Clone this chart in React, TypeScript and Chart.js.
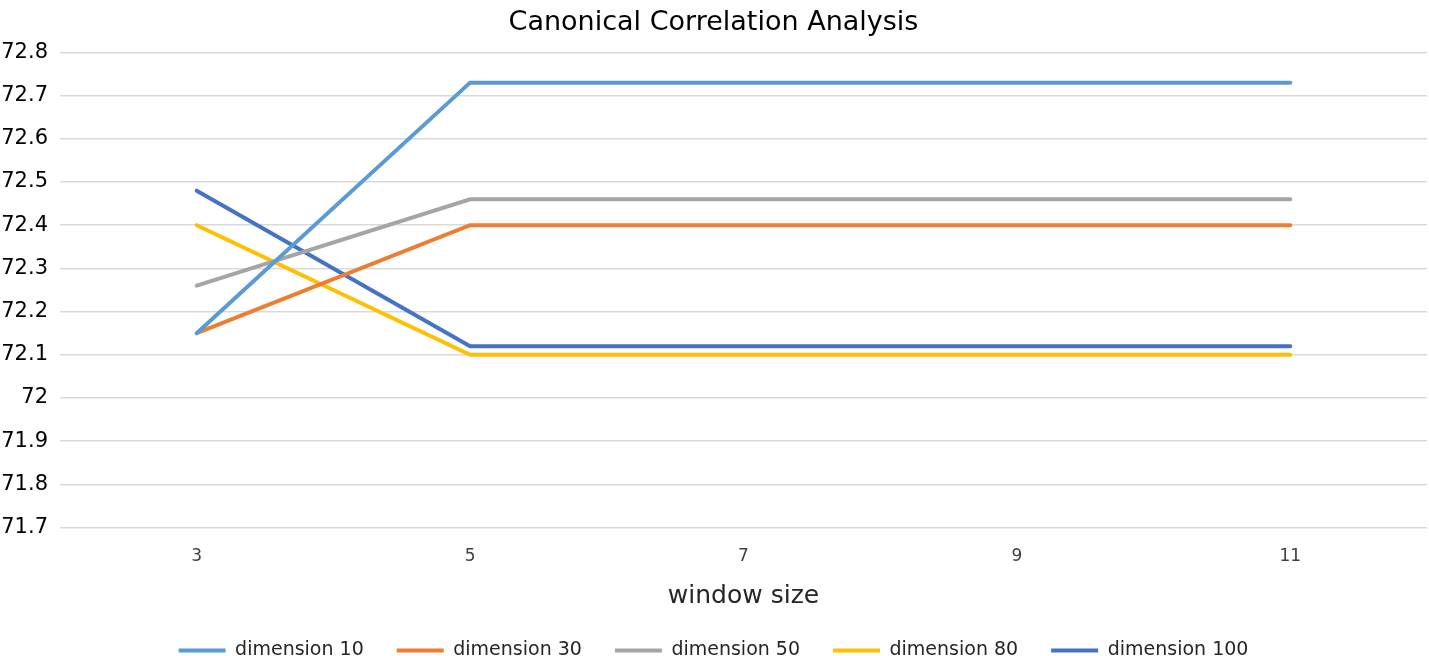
import React, { useEffect, useRef } from "react";
import { Chart, registerables } from "chart.js";

Chart.register(...registerables);

const windowSizes = ["3", "5", "7", "9", "11"];
const dim10 = [72.15, 72.73, 72.73, 72.73, 72.73];
const dim30 = [72.15, 72.4, 72.4, 72.4, 72.4];
const dim50 = [72.26, 72.46, 72.46, 72.46, 72.46];
const dim80 = [72.4, 72.1, 72.1, 72.1, 72.1];
const dim100 = [72.48, 72.12, 72.12, 72.12, 72.12];
const seriesNames = ["dimension 10", "dimension 30", "dimension 50", "dimension 80", "dimension 100"];
const seriesColors = ["#5B9BD5", "#ED7D31", "#A5A5A5", "#FFC000", "#4472C4"];

const FONT = "'DejaVu Sans', sans-serif";

export default function App() {
  const ref = useRef<HTMLCanvasElement | null>(null);
  useEffect(() => {
    document.body.style.margin = "0";
    if (!ref.current) return;
    const values = [dim10, dim30, dim50, dim80, dim100];
    const chart = new Chart(ref.current, {
      type: "line",
      data: {
        labels: windowSizes,
        datasets: values.map((v, i) => ({
          label: seriesNames[i],
          data: v,
          borderColor: seriesColors[i],
          backgroundColor: seriesColors[i],
          borderWidth: 4,
          borderCapStyle: "round" as const,
          pointRadius: 0,
          tension: 0,
        })),
      },
      options: {
        animation: false,
        responsive: true,
        maintainAspectRatio: false,
        layout: { padding: { left: 0, right: 2, top: 4, bottom: -14 } },
        plugins: {
          title: {
            display: true,
            text: "Canonical Correlation Analysis",
            color: "#000",
            font: { family: FONT, size: 27, weight: "normal" },
            padding: { top: 3, bottom: 13 },
          },
          legend: {
            position: "bottom",
            labels: {
              color: "#262626",
              font: { family: FONT, size: 19 },
              boxWidth: 47,
              boxHeight: 4,
              padding: 33,
              generateLabels: (c: any) => {
                const items = Chart.defaults.plugins.legend.labels.generateLabels(c);
                return items.map((it: any) => ({ ...it, lineWidth: 0 }));
              },
            },
          },
          tooltip: { enabled: false },
        },
        scales: {
          x: {
            offset: true,
            grid: { display: false, drawTicks: false },
            border: { display: false },
            ticks: { color: "#404040", font: { family: FONT, size: 17 }, padding: 19 },
            title: {
              display: true,
              text: "window size",
              color: "#262626",
              font: { family: FONT, size: 25 },
              padding: { top: -5, bottom: -3 },
            },
          },
          y: {
            min: 71.7,
            max: 72.8,
            afterFit: (s: any) => {
              s.width = 60;
            },
            grid: { color: "#d9d9d9", lineWidth: 1.5, drawTicks: false },
            border: { display: false },
            ticks: {
              stepSize: 0.1,
              color: "#000",
              font: { family: FONT, size: 21 },
              padding: 12,
              callback: (v: any) => String(Math.round(Number(v) * 10) / 10),
            },
          },
        },
      },
    });
    return () => chart.destroy();
  }, []);
  return (
    <div style={{ width: 1429, height: 656, position: "relative" }}>
      <canvas ref={ref} />
    </div>
  );
}
